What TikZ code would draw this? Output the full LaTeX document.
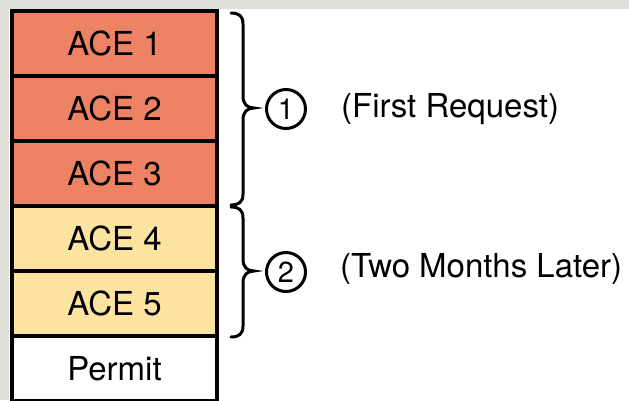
\documentclass[tikz,border=0pt]{standalone}
\usepackage{fontspec}
\setmainfont{TeX Gyre Heros}
\definecolor{acered}{HTML}{EE8264}
\definecolor{aceyel}{HTML}{FDE3A0}
\definecolor{bgstrip}{HTML}{DFDED8}
\begin{document}
\begin{tikzpicture}[x=1pt,y=-1pt,
  row/.style={draw=black,line width=3.2pt,minimum width=205pt,minimum height=65pt,inner sep=0pt,
    font=\fontsize{33}{33}\selectfont,text height=23.6pt,text depth=0pt},
  brc/.style={line width=3pt,line cap=round},
  num/.style={circle,draw=black,line width=3pt,minimum size=39pt,inner sep=0pt,
    font=\fontsize{29}{29}\selectfont,text height=20.7pt,text depth=0pt},
  lbl/.style={anchor=base west,inner sep=0pt,font=\fontsize{33}{33}\selectfont}]
\useasboundingbox (0,0) rectangle (629,400);
\fill[bgstrip] (0,0) rectangle (629,400);
\fill[white] (9,9) rectangle (629,400);
% rows
\node[row,fill=acered] (a1) at (114.5,43.5) {ACE 1};
\node[row,fill=acered] (a2) at (114.5,108.5) {ACE 2};
\node[row,fill=acered] (a3) at (114.5,173.5) {ACE 3};
\node[row,fill=aceyel] (a4) at (114.5,238.5) {ACE 4};
\node[row,fill=aceyel] (a5) at (114.5,303.5) {ACE 5};
\node[row,fill=white] (pm) at (114.5,368.5) {Permit};
% braces
\draw[brc] (231,13) .. controls (239,13) and (243,16) .. (243,24) -- (243,96)
  .. controls (243,104) and (247,108) .. (254,108)
  .. controls (247,108) and (243,112) .. (243,120) -- (243,194)
  .. controls (243,202) and (239,205) .. (231,205);
\draw[brc] (231,207) .. controls (239,207) and (243,210) .. (243,218) -- (243,259)
  .. controls (243,267) and (247,271) .. (254,271)
  .. controls (247,271) and (243,275) .. (243,283) -- (243,326)
  .. controls (243,334) and (239,337) .. (231,337);
% numbers
\node[num] (c1) at (286,109) {1};
\node[num] (c2) at (286,272) {2};
% labels
\node[lbl] (l1) at (341,117) {(First Request)};
\node[lbl] (l2) at (340,277) {(Two Months Later)};
\end{tikzpicture}
\end{document}
